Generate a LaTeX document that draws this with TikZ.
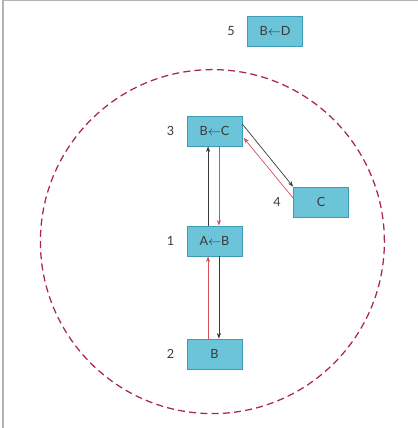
\documentclass[tikz,border=0pt]{standalone}
\usepackage{fontspec}
\setmainfont{Lato}
\usepackage{tikz}
\usetikzlibrary{arrows.meta,positioning}
\definecolor{boxblue}{HTML}{6CC4D8}
\definecolor{boxedge}{HTML}{3C9CBA}
\definecolor{linkred}{HTML}{D9505A}
\definecolor{linkdark}{HTML}{3A3A3A}
\definecolor{ringred}{HTML}{A8294F}
\definecolor{framegray}{HTML}{B4B4B4}

\begin{document}
\begin{tikzpicture}[
    every node/.style={font=\fontsize{9}{10}\selectfont, text=linkdark},
    opbox/.style={draw=boxedge, fill=boxblue, line width=0.6pt,
      minimum width=1.375cm, minimum height=0.75cm, inner sep=0pt},
    numlbl/.style={inner sep=0pt},
    fwd/.style={-{Stealth[length=4pt,width=3pt]}, linkdark, line width=0.5pt},
    back/.style={-{Stealth[length=4pt,width=3pt]}, linkred, line width=0.5pt}]
        \useasboundingbox (0,0) rectangle (10.45,10.7);
        \draw[framegray,line width=0.8pt] (0.075,0) -- (0.075,10.68) -- (10.45,10.68);
        \draw[ringred,line width=0.9pt,dash pattern=on 5pt off 3pt] (5.31,4.66) circle (4.3);
        \node[opbox] (b5) at (6.875,9.925) {B$\leftarrow$D};
        \node[opbox] (b3) at (5.3625,7.425) {B$\leftarrow$C};
        \node[opbox] (b4) at (8.025,5.65) {C};
        \node[opbox] (b1) at (5.3625,4.675) {A$\leftarrow$B};
        \node[opbox] (b2) at (5.3625,1.85) {B};
        \node[numlbl, left=0.3cm of b5] {5};
        \node[numlbl, left=0.3cm of b3] {3};
        \node[numlbl, left=0.3cm of b4] {4};
        \node[numlbl, left=0.3cm of b1] {1};
        \node[numlbl, left=0.3cm of b2] {2};
        \draw[fwd] ([xshift=-0.16cm]b1.north) -- ([xshift=-0.16cm]b3.south);
        \draw[back] ([xshift=0.11cm]b3.south) -- ([xshift=0.11cm]b1.north);
        \draw[back] ([xshift=-0.16cm]b2.north) -- ([xshift=-0.16cm]b1.south);
        \draw[fwd] ([xshift=0.11cm]b1.south) -- ([xshift=0.11cm]b2.north);
        \draw[fwd] ([yshift=0.17cm]b3.east) -- (b4.north west);
        \draw[back] ([yshift=0.1cm]b4.west) -- ([xshift=0.03cm,yshift=-0.17cm]b3.east);
      \end{tikzpicture}
\end{document}
